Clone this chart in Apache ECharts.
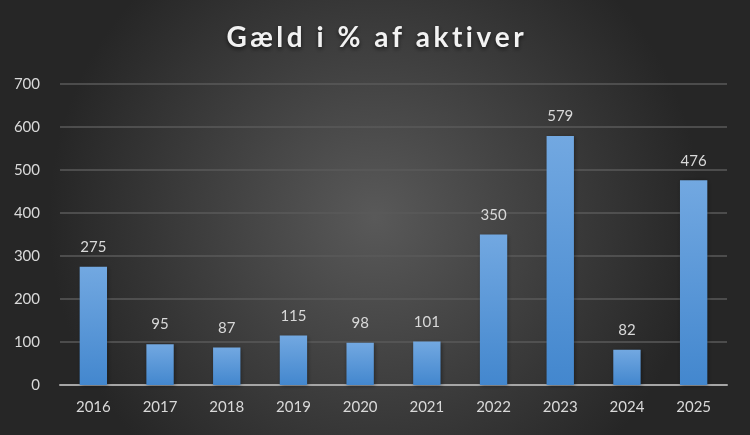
<!DOCTYPE html>
<html><head><meta charset="utf-8">
<script src="https://cdn.jsdelivr.net/npm/echarts@6/dist/echarts.min.js"></script>
<style>html,body{margin:0;padding:0;background:#333;}#c{width:750px;height:435px;}</style>
</head><body><div id="c"></div>
<script>
const categories = ['2016','2017','2018','2019','2020','2021','2022','2023','2024','2025'];
const values = [275, 95, 87, 115, 98, 101, 350, 579, 82, 476];
const titleText = 'Gæld i % af aktiver';

const chart = echarts.init(document.getElementById('c'));
chart.setOption({
  backgroundColor: {
    type: 'radial', x: 0.5, y: 0.5, r: 0.75,
    colorStops: [{offset: 0, color: '#595959'}, {offset: 1, color: '#262626'}]
  },
  title: {
    text: titleText.split('').join('\u2009'),
    left: 'center', top: 19,
    textStyle: {color: '#f2f2f2', fontSize: 28, fontWeight: 'bold', fontFamily: 'Lato',
      textShadowColor: 'rgba(0,0,0,0.6)', textShadowBlur: 4, textShadowOffsetY: 2}
  },
  grid: {left: 60, right: 23, top: 84, bottom: 50, containLabel: false},
  xAxis: {
    type: 'category', data: categories,
    axisLine: {lineStyle: {color: '#a6a6a6', width: 2}},
    axisTick: {show: false},
    axisLabel: {color: '#d9d9d9', fontSize: 15, fontFamily: 'Lato', margin: 15}
  },
  yAxis: {
    type: 'value', min: 0, max: 700, interval: 100,
    axisLine: {show: false}, axisTick: {show: false},
    axisLabel: {color: '#d9d9d9', fontSize: 15, fontFamily: 'Lato', margin: 20},
    splitLine: {lineStyle: {color: '#5a5a5a', width: 1.5}}
  },
  series: [{
    type: 'bar', data: values, barWidth: '41%',
    itemStyle: {
      color: {type: 'linear', x: 0, y: 0, x2: 0, y2: 1,
        colorStops: [{offset: 0, color: '#72a8e1'}, {offset: 1, color: '#4387ce'}]},
      shadowColor: 'rgba(0,0,0,0.4)', shadowBlur: 4, shadowOffsetX: 1, shadowOffsetY: 1
    },
    label: {show: true, position: 'top', distance: 12, color: '#d9d9d9', fontSize: 15, fontFamily: 'Lato'}
  }]
});
</script></body></html>
